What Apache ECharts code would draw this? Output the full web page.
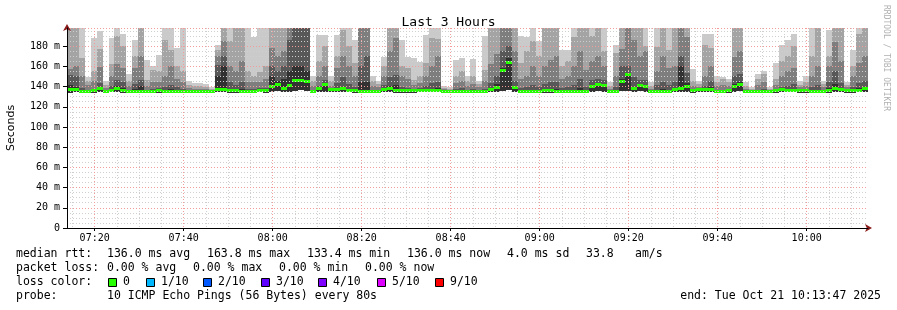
<!DOCTYPE html>
<html><head><meta charset="utf-8">
<script src="https://cdn.jsdelivr.net/npm/echarts@6/dist/echarts.min.js"></script>
<style>html,body{margin:0;padding:0;background:#fff}#c{width:897px;height:310px}</style>
</head><body><div id="c"></div>
<script>
// ---------- data ----------
const chartTitle = 'Last 3 Hours';
const startMinutes = 13 + 47 / 60;      // 07:13:47, minutes after 07:00
const spanMinutes = 180;
const stepMinutes = 80 / 60;            // one probe every 80 s
const tickMinutes = [20, 40, 60, 80, 100, 120, 140, 160, 180];
const tickLabels = ['07:20', '07:40', '08:00', '08:20', '08:40', '09:00', '09:20', '09:40', '10:00'];
const yMax = 198;

// sorted pings (ms): ping10 = slowest ... ping6 = just above median
const ping10 = [198,198,198,149,188,195,146,188,198,192,152,186,198,166,160,171,198,198,178,198,146,144,144,143,140,181,198,198,198,198,198,189,198,198,198,198,198,198,198,198,198,150,191,191,150,191,198,198,186,198,198,150,146,169,198,198,186,169,168,164,191,198,198,141,140,166,168,150,167,146,190,198,198,198,198,198,190,189,198,185,198,198,198,176,176,198,198,198,198,198,198,145,181,198,198,198,198,198,145,198,198,198,198,198,198,157,146,192,192,150,149,148,198,198,145,140,152,155,140,163,181,186,192,146,150,198,198,146,196,198,198,145,176,198,198];
const ping9  = [198,198,168,146,155,177,142,162,190,180,146,170,198,147,156,155,186,176,160,155,142,141,141,140,138,176,198,185,198,198,155,150,154,160,198,198,198,198,198,198,198,146,165,180,146,170,196,180,163,198,198,146,143,160,198,198,160,158,147,150,163,188,187,139,138,150,155,146,150,143,156,198,198,198,198,198,163,175,185,170,198,198,198,160,165,189,198,198,190,198,175,141,173,198,198,198,198,180,141,179,198,176,198,198,198,146,143,181,178,145,148,145,198,198,141,138,148,152,138,148,165,170,180,142,145,170,198,143,170,198,198,142,160,192,198];
const ping8  = [157,160,150,142,146,159,139,150,162,158,141,158,170,141,145,145,150,160,148,145,139,138,138,138,137,170,185,160,155,165,145,145,145,148,178,170,175,198,198,198,198,141,150,160,141,158,170,160,150,198,198,141,140,150,175,188,150,148,142,144,150,160,170,138,137,144,146,141,143,140,146,162,172,198,198,175,148,150,160,150,160,166,170,148,150,160,175,156,165,170,160,138,150,177,198,186,170,175,138,155,170,158,160,198,189,141,140,150,160,141,142,141,169,175,138,137,142,145,137,142,150,155,158,140,141,150,160,140,160,184,165,140,150,163,170];
const ping7  = [151,150,139,137,138,144,136,140.5,147,145,137,143,147,137,138,138.5,140,142,139.5,138,136.3,136.3,135.6,135.6,135.6,161,170,144.5,142,145,138,138,138.5,139,160,155,160,186,198,198,198,137,140.5,147,137.5,144,149,142.5,140,160,170,137,136.3,142,149,151,140,139,138,138.5,140.5,144,145,136.3,135.7,138,139,137,137.6,136.3,138,143.3,150,175,180,146,138.7,139.5,142,139.5,142.3,145,145,139,139.5,142,148,139.5,146.5,148,147,135.6,140,160,160,149,147,146.5,136.3,141.5,145,141.5,145,170,153,137,137.5,140.7,145.3,137,137,137.1,150,152,135.7,135.7,137,138,135.7,137.8,140,141,142.5,136.8,137,139.5,141.5,137,145,155,144,136.8,139.7,144,145.6];
const ping6  = [142,140,136,135,136,139,135.5,137,141,138.5,135.5,137.5,140.5,135.5,136,136.5,136.5,137.5,136.5,136,135.5,135.5,135.2,135.2,135.2,150,160,138,138,137.5,136,136,136.5,136.3,150,146,148,155,160,160,155,135.4,138.3,143.5,136.8,138.5,139.3,137.5,137,145,145,135.5,135.5,138.5,141,141.5,136.8,136.3,136.3,136.5,137,138,138.5,135.5,135.3,136,136,135.5,136,135.5,136,138.3,143,158,168,140,135.8,136.5,137,136.5,137.3,137.8,138,136,136.5,137,138.5,137,141,142.8,142,135.2,137,148,153,139.5,142,141,135.5,137,138,137,138.3,160,144,135.8,136.8,137.8,139.8,135.5,135.5,135.8,143,145,135.3,135.3,135.5,136,135.3,136.3,137.3,137.5,137.5,136,136,136.5,137,135.5,138.3,143,139,136,136.8,138.5,139.3];
const medianRtt = [136.5,136.5,135,134.5,135.5,137.5,135,136,137.5,136,135,135,135,135,135,135.5,135,135,135,135,135,135,134.8,134.8,134.8,136.5,136.5,136,136,135,135,135,136,135.5,139.8,141.4,138,140.4,145.4,145.4,145,134.8,137.5,142,136.5,137,137.5,136,136,135,135,135,135,137,137.5,135.5,135.5,135.5,135.5,136,136,136,136,135,135,135,135,135,135,135,135,136.5,138.5,155.6,163.5,138.5,134.5,135,135,135,135.5,135.5,135,135,135,135,135,135,140,141.5,141,134.8,135,145,151,138,141,140,135,135,135,135,136.5,138,140,135.5,136.5,136.5,136.5,135,135,135.5,140,141.5,135,135,135,135,135,135.5,136.5,136,136,135.5,135.5,135,135,135,135.5,137.5,137,135.5,135.5,136,137.5];
const minRtt = [134.0,134.2,133.8,133.6,134.0,134.5,134.0,134.2,134.6,134.0,133.8,134.0,134.0,133.8,134.0,134.0,133.9,134.0,134.0,133.8,133.9,134.0,133.6,133.6,133.5,134.2,134.4,134.0,134.0,133.9,133.8,134.0,134.2,134.0,134.8,135.5,134.6,135.0,136.0,136.2,136.0,133.6,134.5,135.0,134.6,134.6,134.6,134.2,134.0,133.8,133.8,133.8,133.8,134.6,134.8,134.0,134.0,134.0,134.0,134.2,134.2,134.2,134.2,133.8,133.8,133.8,133.8,133.8,133.8,133.8,133.8,134.4,135.0,136.0,136.5,135.0,133.4,133.8,133.8,133.8,134.0,134.0,133.8,133.8,133.8,133.8,133.8,133.8,134.8,135.2,135.0,133.6,133.8,135.5,136.0,135.0,135.2,135.0,133.8,133.8,133.8,133.8,134.4,134.6,135.0,134.0,134.4,134.4,134.4,133.8,133.8,134.0,135.0,135.2,133.8,133.8,133.8,133.8,133.8,134.0,134.4,134.2,134.2,134.0,134.0,133.8,133.8,133.8,134.0,134.8,134.6,134.0,134.0,134.2,134.8];

const lossLabels = ['0', '1/10', '2/10', '3/10', '4/10', '5/10', '9/10'];
const lossColors = ['#26ff00', '#00b8ff', '#0059ff', '#5e00ff', '#7e00ff', '#dd00ff', '#ff0000'];
const statsRtt = ['136.0 ms avg', '163.8 ms max', '133.4 ms min', '136.0 ms now', '4.0 ms sd', '33.8', 'am/s'];
const statsLoss = ['0.00 % avg', '0.00 % max', '0.00 % min', '0.00 % now'];
const probeText = '10 ICMP Echo Pings (56 Bytes) every 80s';
const endText = 'end: Tue Oct 21 10:13:47 2025';

// ---------- build ----------
const MONO = 'DejaVu Sans Mono';
const stepTimes = ping10.map((_, i) => startMinutes + i * stepMinutes);
const smokeColors = ['#cacaca', '#a4a4a4', '#7e7e7e', '#585858', '#323232'];
const smokeTops = [ping10, ping9, ping8, ping7, ping6];
const minorMinutes = [];
for (let m = 15; m < startMinutes + spanMinutes; m += 5) if (m % 20 !== 0) minorMinutes.push(m);

function clipRect(r, cs) {
  return echarts.graphic.clipRectByRect(r, {x: cs.x, y: cs.y, width: cs.width, height: cs.height});
}
function smokeSeries(tops, color) {
  return {
    type: 'custom', silent: true, animation: false, xAxisIndex: 0, yAxisIndex: 0,
    data: tops.map((v, i) => [stepTimes[i], minRtt[i], v]),
    encode: {x: 0, y: [1, 2]},
    renderItem(params, api) {
      const t = api.value(0);
      const a = api.coord([t, api.value(2)]);
      const b = api.coord([t + stepMinutes, api.value(1)]);
      const x0 = Math.round(a[0]), x1 = Math.round(b[0]);
      const y0 = Math.round(a[1]), y1 = Math.round(b[1]);
      const shape = clipRect({x: x0, y: y0, width: x1 - x0, height: y1 - y0}, params.coordSys);
      return shape && {type: 'rect', shape, style: {fill: color}};
    }
  };
}
const medianSeries = {
  type: 'custom', silent: true, animation: false, xAxisIndex: 0, yAxisIndex: 0,
  data: medianRtt.map((v, i) => [stepTimes[i], v]),
  encode: {x: 0, y: 1},
  renderItem(params, api) {
    const t = api.value(0);
    const a = api.coord([t, api.value(1)]);
    const b = api.coord([t + stepMinutes, api.value(1)]);
    const x0 = Math.round(a[0]), x1 = Math.round(b[0]);
    const shape = clipRect({x: x0, y: Math.round(a[1]) - 2, width: x1 - x0, height: 3}, params.coordSys);
    return shape && {type: 'rect', shape, style: {fill: lossColors[0]}};
  }
};

const txt = (x, y, s, extra) => ({type: 'text', x, y, style: Object.assign({text: s, font: '11.5px "' + MONO + '"', fill: '#000', textVerticalAlign: 'middle'}, extra || {})});
const graphics = [];
graphics.push({type: 'text', x: 886, y: 5, rotation: -Math.PI / 2,
  style: {text: 'RRDTOOL / TOBI OETIKER', font: '8px "' + MONO + '"', fill: '#b0b0b0', textVerticalAlign: 'middle'}});
graphics.push(txt(16, 254, 'median rtt:'));
[107, 207, 307, 407, 507, 586, 635].forEach((x, i) => graphics.push(txt(x, 254, statsRtt[i])));
graphics.push(txt(16, 268, 'packet loss:'));
[107, 193, 279, 365].forEach((x, i) => graphics.push(txt(x, 268, statsLoss[i])));
graphics.push(txt(16, 282, 'loss color:'));
[108, 146, 203, 261, 318, 377, 435].forEach((x, i) => {
  graphics.push({type: 'rect', shape: {x: x + 0.5, y: 278.5, width: 8, height: 8}, style: {fill: lossColors[i], stroke: '#000', lineWidth: 1}});
  graphics.push(txt(x + 15, 282, lossLabels[i]));
});
graphics.push(txt(16, 296, 'probe:'));
graphics.push(txt(107, 296, probeText));
graphics.push(txt(881, 296, endText, {textAlign: 'right'}));

const gridDot = [1, 2];
const option = {
  backgroundColor: '#ffffff',
  animation: false,
  title: {text: chartTitle, left: 'center', top: 11,
    textStyle: {fontFamily: MONO, fontSize: 13, fontWeight: 'normal', color: '#000'}},
  grid: {left: 67, top: 28, width: 801, height: 200, containLabel: false, outerBoundsMode: 'none'},
  xAxis: [
    {type: 'value', min: startMinutes, max: startMinutes + spanMinutes, position: 'bottom', z: 5,
      axisLine: {show: true, onZero: false, lineStyle: {color: '#000', width: 1}},
      axisTick: {show: true, customValues: tickMinutes, length: 3, lineStyle: {color: '#000'}},
      axisLabel: {customValues: tickMinutes, margin: 5, fontFamily: MONO, fontSize: 10, color: '#000',
        formatter: v => tickLabels[tickMinutes.indexOf(v)] || ''},
      splitLine: {show: true, lineStyle: {color: '#f29c9c', type: gridDot, width: 1}}},
    {type: 'value', min: startMinutes, max: startMinutes + spanMinutes, position: 'bottom',
      axisLine: {show: false}, axisLabel: {show: false},
      axisTick: {show: false, customValues: minorMinutes},
      splitLine: {show: true, lineStyle: {color: '#cfcfcf', type: gridDot, width: 1}}},
    {type: 'value', min: startMinutes, max: startMinutes + spanMinutes, position: 'bottom', z: 4,
      axisLine: {show: true, onZero: false, lineStyle: {color: '#8b1a1a'}, symbol: ['none', 'arrow'], symbolSize: [6, 7], symbolOffset: [0, 4]},
      axisLabel: {show: false}, axisTick: {show: false}, splitLine: {show: false}}
  ],
  yAxis: [
    {type: 'value', min: 0, max: yMax, interval: 20, z: 5,
      axisLine: {show: true, onZero: false, lineStyle: {color: '#000'}},
      axisTick: {show: true, length: 4, lineStyle: {color: '#000'}},
      axisLabel: {margin: 7, fontFamily: MONO, fontSize: 10, color: '#000', showMaxLabel: false,
        formatter: v => (v % 20 !== 0 ? '' : (v === 0 ? '0' : v + ' m'))},
      splitLine: {show: true, lineStyle: {color: '#f29c9c', type: gridDot, width: 1}},
      minorTick: {show: false, splitNumber: 4},
      minorSplitLine: {show: true, lineStyle: {color: '#cfcfcf', type: gridDot, width: 1}},
      name: 'Seconds', nameLocation: 'middle', nameGap: 50, nameRotate: 90,
      nameTextStyle: {fontFamily: 'DejaVu Sans', fontSize: 11, color: '#000'}},
    {type: 'value', min: 0, max: yMax, z: 4,
      axisLine: {show: true, onZero: false, lineStyle: {color: '#8b1a1a'}, symbol: ['none', 'arrow'], symbolSize: [6, 7], symbolOffset: [0, 4]},
      axisLabel: {show: false}, axisTick: {show: false}, splitLine: {show: false}, position: 'left'}
  ],
  series: smokeTops.map((tops, i) => smokeSeries(tops, smokeColors[i])).concat([medianSeries]),
  graphic: graphics
};
const chart = echarts.init(document.getElementById('c'), null, {renderer: 'canvas'});
chart.setOption(option);
</script></body></html>
